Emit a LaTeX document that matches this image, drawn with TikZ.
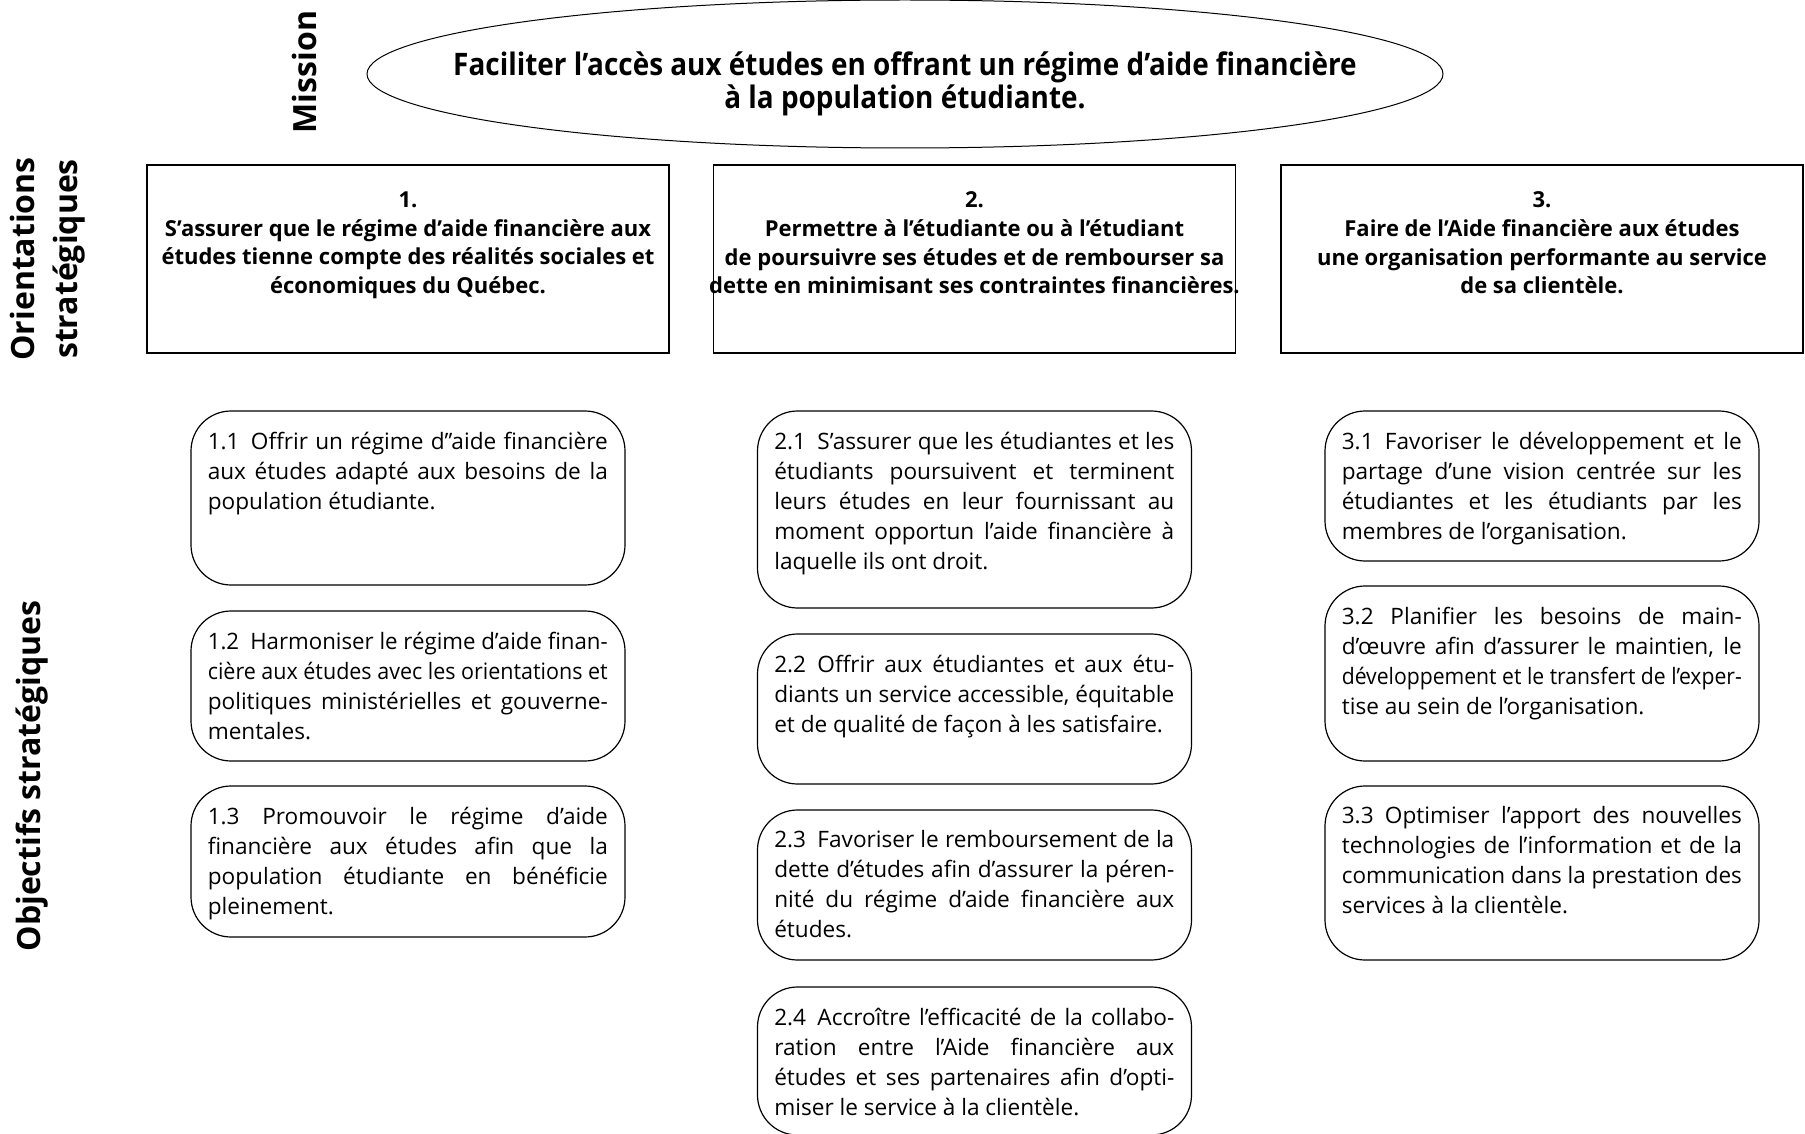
\documentclass[tikz,border=0pt]{standalone}
\usepackage{fontspec}
\usepackage{graphicx}
\setmainfont{Open Sans}
\newfontfamily\condfont[FakeStretch=0.9]{Open Sans}
\usetikzlibrary{shapes.geometric,positioning}
\tikzset{mission/.style={draw, ellipse, line width=0.5pt, inner sep=0pt, minimum width=538pt, minimum height=74pt}}
\tikzset{missiontext/.style={inner sep=0pt, align=center, font=\condfont\bfseries\fontsize{15.5}{16.5}\selectfont}}
\tikzset{orient/.style={draw, rectangle, line width=0.6pt, minimum width=261pt, minimum height=94pt}}
\tikzset{orienttext/.style={inner sep=0pt, align=center, font=\bfseries\fontsize{11}{14.35}\selectfont}}
\tikzset{objective/.style={draw, rectangle, rounded corners=20pt, line width=0.6pt, minimum width=217pt}}
\tikzset{objtext/.style={inner sep=0pt, text width=200pt, align=left, font=\fontsize{11.3}{15}\selectfont}}
\tikzset{side/.style={rotate=90, align=center, font=\bfseries\fontsize{16}{21.5}\selectfont}}
\newsavebox{\jlbox}
% justified line / last line, squeezed when too long
\newcommand{\jl}[1]{\sbox{\jlbox}{\spaceskip=0pt\xspaceskip=0pt #1}\ifdim\wd\jlbox>\hsize\resizebox{\hsize}{\height}{\usebox{\jlbox}}\else\makebox[\hsize][s]{\spaceskip=0pt\xspaceskip=0pt #1}\fi}
\newcommand{\lastl}[1]{\sbox{\jlbox}{\spaceskip=0pt\xspaceskip=0pt #1}\ifdim\wd\jlbox>\hsize\resizebox{\hsize}{\height}{\usebox{\jlbox}}\else\usebox{\jlbox}\fi}

\begin{document}
\begin{tikzpicture}[x=0.5pt, y=-0.5pt]
    \useasboundingbox (0,0) rectangle (1805,1134);

    \node [side] (lmission) at (304,72) {Mission};
    \node [side] (lorient) at (48,259) {Orientations\\stratégiques};
    \node [side] (lobj) at (32,776) {Objectifs stratégiques};

    \node [mission] (mission) at (905,74) {};
    \node [missiontext, yshift=-4.8pt] (missiontext) at (mission.center) {Faciliter l’accès aux études en offrant un régime d’aide financière\\à la population étudiante.};

    \node [orient] (orient1) at (408,259) {};
    \node [orient] (orient2) at (974.5,259) {};
    \node [orient] (orient3) at (1542,259) {};
    \node [orienttext, below=13.5pt of orient1.north] (otext1) {1.\\S’assurer que le régime d’aide financière aux\\études tienne compte des réalités sociales et\\économiques du Québec.};
    \node [orienttext, below=13.5pt of orient2.north] (otext2) {2.\\Permettre à l’étudiante ou à l’étudiant\\de poursuivre ses études et de rembourser sa\\dette en minimisant ses contraintes financières.};
    \node [orienttext, below=13.5pt of orient3.north] (otext3) {3.\\Faire de l’Aide financière aux études\\une organisation performante au service\\de sa clientèle.};

    \node [objective, minimum height=87pt] (obj11) at (408,498) {};
    \node [objective, minimum height=75pt] (obj12) at (408,686) {};
    \node [objective, minimum height=75.5pt] (obj13) at (408,861.5) {};
    \node [objective, minimum height=98.5pt] (obj21) at (974.5,509.5) {};
    \node [objective, minimum height=75pt] (obj22) at (974.5,709) {};
    \node [objective, minimum height=75pt] (obj23) at (974.5,885) {};
    \node [objective, minimum height=74pt] (obj24) at (974.5,1061) {};
    \node [objective, minimum height=75pt] (obj31) at (1542,486) {};
    \node [objective, minimum height=87.5pt] (obj32) at (1542,673.5) {};
    \node [objective, minimum height=87pt] (obj33) at (1542,873) {};

    \node [objtext, below right=10.5pt and 8.5pt of obj11.north west] (text11) {\jl{1.1\enspace Offrir un régime d’’aide financière}\\\jl{aux études adapté aux besoins de la}\\\lastl{population étudiante.}};
    \node [objtext, below right=10.5pt and 8.5pt of obj12.north west] (text12) {\jl{1.2\enspace Harmoniser le régime d’aide finan-}\\\jl{cière aux études avec les orientations et}\\\jl{politiques ministérielles et gouverne-}\\\lastl{mentales.}};
    \node [objtext, below right=10.5pt and 8.5pt of obj13.north west] (text13) {\jl{1.3 Promouvoir le régime d’aide}\\\jl{financière aux études afin que la}\\\jl{population étudiante en bénéficie}\\\lastl{pleinement.}};

    \node [objtext, below right=10.5pt and 8.5pt of obj21.north west] (text21) {\jl{2.1\enspace S’assurer que les étudiantes et les}\\\jl{étudiants poursuivent et terminent}\\\jl{leurs études en leur fournissant au}\\\jl{moment opportun l’aide financière à}\\\lastl{laquelle ils ont droit.}};
    \node [objtext, below right=10.5pt and 8.5pt of obj22.north west] (text22) {\jl{2.2\enspace Offrir aux étudiantes et aux étu-}\\\jl{diants un service accessible, équitable}\\\lastl{et de qualité de façon à les satisfaire.}};
    \node [objtext, below right=10.5pt and 8.5pt of obj23.north west] (text23) {\jl{2.3\enspace Favoriser le remboursement de la}\\\jl{dette d’études afin d’assurer la péren-}\\\jl{nité du régime d’aide financière aux}\\\lastl{études.}};
    \node [objtext, below right=10.5pt and 8.5pt of obj24.north west] (text24) {\jl{2.4\enspace Accroître l’efficacité de la collabo-}\\\jl{ration entre l’Aide financière aux}\\\jl{études et ses partenaires afin d’opti-}\\\lastl{miser le service à la clientèle.}};

    \node [objtext, below right=10.5pt and 8.5pt of obj31.north west] (text31) {\jl{3.1\enspace Favoriser le développement et le}\\\jl{partage d’une vision centrée sur les}\\\jl{étudiantes et les étudiants par les}\\\lastl{membres de l’organisation.}};
    \node [objtext, below right=10.5pt and 8.5pt of obj32.north west] (text32) {\jl{3.2 Planifier les besoins de main-}\\\jl{d’œuvre afin d’assurer le maintien, le}\\\jl{développement et le transfert de l’exper-}\\\lastl{tise au sein de l’organisation.}};
    \node [objtext, below right=10.5pt and 8.5pt of obj33.north west] (text33) {\jl{3.3\enspace Optimiser l’apport des nouvelles}\\\jl{technologies de l’information et de la}\\\jl{communication dans la prestation des}\\\lastl{services à la clientèle.}};
\end{tikzpicture}
\end{document}
